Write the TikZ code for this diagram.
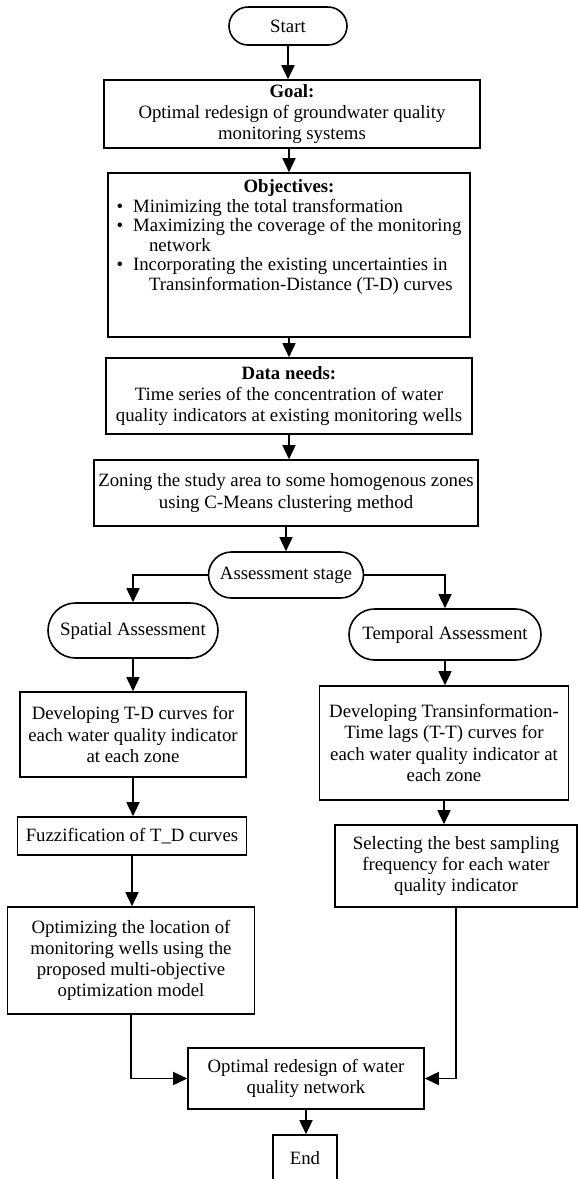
\documentclass[tikz,border=0pt]{standalone}
\usepackage{fontspec}
\setmainfont{Liberation Serif}
\usetikzlibrary{shapes.misc,arrows.meta}

\begin{document}
\begin{tikzpicture}[x=0.5pt,y=-0.5pt,
	font=\fontsize{9.4}{10.6}\selectfont,
	box/.style={draw, line width=0.8pt, align=center, inner xsep=1pt, inner ysep=2pt},
	term/.style={draw, line width=0.8pt, rounded rectangle, align=center, inner sep=2pt},
	arr/.style={line width=0.8pt, -{Triangle[width=6.5pt,length=7pt]}}]
	\useasboundingbox (0,0) rectangle (578,1179);
	% main column:
	\node (start) [term, minimum width=63pt, minimum height=19pt] at (288,26) {Start};
	\node (goal) [box, minimum width=188pt, minimum height=34pt] at (292,114)
		{\textbf{Goal:}\\ Optimal redesign of groundwater quality\\ monitoring systems};
	\node (obj) [box, minimum width=181pt, minimum height=82pt] at (289,255) {};
	\node (objtxt) [anchor=north, align=center, inner sep=0pt] at ([yshift=-3.5pt]obj.north)
		{\textbf{Objectives:}\\
		\renewcommand\arraystretch{0.92}%
		\begin{tabular}{@{}l@{\hspace{5pt}}l@{}}
			\textbullet & Minimizing the total transformation\\
			\textbullet & Maximizing the coverage of the monitoring\\
			& \hspace{8pt}network\\
			\textbullet & Incorporating the existing uncertainties in\\
			& \hspace{8pt}Transinformation-Distance (T-D) curves
		\end{tabular}};
	\node (data) [box, minimum width=183pt, minimum height=38pt] at (289,396)
		{\textbf{Data needs:}\\ Time series of the concentration of water\\ quality indicators at existing monitoring wells};
	\node (zone) [box, minimum width=192pt, minimum height=33pt] at (286,493)
		{Zoning the study area to some homogenous zones\\ using C-Means clustering method};
	\node (stage) [term, minimum width=81.5pt, minimum height=23pt] at (286,575) {Assessment stage};
	% spatial branch:
	\node (spatial) [term, minimum width=89pt, minimum height=27.5pt] at (133,630.5) {Spatial Assessment};
	\node (devtd) [box, minimum width=113pt, minimum height=42.5pt] at (133,734.5)
		{Developing T-D curves for\\ each water quality indicator\\ at each zone};
	\node (fuzzy) [box, minimum width=114.5pt, minimum height=19pt] at (132,836) {Fuzzification of T\_D curves};
	\node (optloc) [box, minimum width=123.5pt, minimum height=53.5pt] at (131,960.5)
		{Optimizing the location of\\ monitoring wells using the\\ proposed multi-objective\\ optimization model};
	% temporal branch:
	\node (temporal) [term, minimum width=100pt, minimum height=25.5pt] at (445,634.5) {Temporal Assessment};
	\node (devtt) [box, minimum width=124.5pt, minimum height=57pt] at (444,743)
		{Developing Transinformation-\\ Time lags (T-T) curves for\\ each water quality indicator at\\ each zone};
	\node (select) [box, minimum width=121pt, minimum height=41pt] at (456,866)
		{Selecting the best sampling\\ frequency for each water\\ quality indicator};
	% end:
	\node (final) [box, minimum width=118pt, minimum height=30.5pt] at (306,1078.5)
		{Optimal redesign of water\\ quality network};
	\node (finish) [box, minimum width=32pt, minimum height=23.5pt] at (305,1158.5) {End};
	% arrows:
	\draw [arr] (start.south) -- (start.south |- goal.north);
	\draw [arr] (obj.north |- goal.south) -- (obj.north);
	\draw [arr] (obj.south) -- (data.north);
	\draw [arr] (data.south) -- (data.south |- zone.north);
	\draw [arr] (zone.south) -- (stage.north);
	\draw [arr] (stage.west) -| (spatial.north);
	\draw [arr] (stage.east) -| (temporal.north);
	\draw [arr] (spatial.south) -- (devtd.north);
	\draw [arr] (devtd.south) -- (devtd.south |- fuzzy.north);
	\draw [arr] (fuzzy.south) -- (fuzzy.south |- optloc.north);
	\draw [arr] (temporal.south) -- (temporal.south |- devtt.north);
	\draw [arr] (devtt.south) -- (devtt.south |- select.north);
	\draw [arr] (optloc.south) |- (final.west);
	\draw [arr] (select.south) |- (final.east);
	\draw [arr] (final.south) -- (final.south |- finish.north);
\end{tikzpicture}
\end{document}
